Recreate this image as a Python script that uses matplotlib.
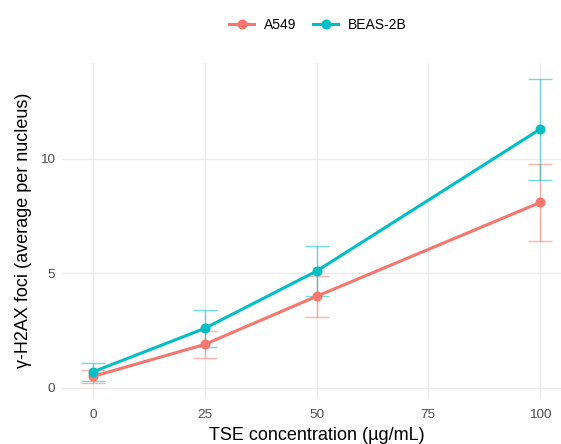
import matplotlib
matplotlib.use("Agg")
import matplotlib.pyplot as plt
from matplotlib.lines import Line2D

plt.rcParams['font.family'] = ['Liberation Sans', 'DejaVu Sans']

conc = [0, 25, 50, 100]
a549_mean = [0.5, 1.9, 4.0, 8.1]
a549_err = [0.3, 0.6, 0.9, 1.7]
beas_mean = [0.7, 2.6, 5.1, 11.3]
beas_err = [0.4, 0.8, 1.1, 2.2]
series = [("A549", a549_mean, a549_err, "#F8766D"),
          ("BEAS-2B", beas_mean, beas_err, "#00BFC4")]

W, H = 561, 444
fig = plt.figure(figsize=(W / 100, H / 100), dpi=100)
ax = fig.add_axes([62 / W, 1 - 398 / H, (571 - 62) / W, (398 - 63) / H])

for name, m, e, c in series:
    ax.errorbar(conc, m, yerr=e, fmt='none', ecolor=c, alpha=0.55,
                elinewidth=1.0, capsize=8.5, capthick=1.0, zorder=2)
for name, m, e, c in series:
    ax.plot(conc, m, color=c, lw=2.2, marker='o', ms=6.2, zorder=3, label=name)

ax.set_xlim(-6.9, 106.9)
ax.set_ylim(-0.44, 14.19)
ax.set_xticks([0, 25, 50, 75, 100])
ax.set_yticks([0, 5, 10])
ax.grid(True, color='#EBEBEB', lw=1.0)
ax.set_axisbelow(True)
for s in ax.spines.values():
    s.set_visible(False)
ax.tick_params(length=0, labelsize=9.7, labelcolor='#4D4D4D')
ax.tick_params(axis='x', pad=8)
ax.tick_params(axis='y', pad=5)
ax.set_xlabel("TSE concentration (µg/mL)", fontsize=13, labelpad=4.5)
ax.set_ylabel("γ-H2AX foci (average per nucleus)", fontsize=13, labelpad=6)

handles = [Line2D([], [], color=c, lw=2.2, marker='o', ms=6.2) for _, _, _, c in series]
fig.legend(handles, [s[0] for s in series], loc='center', bbox_to_anchor=(318 / W, 1 - 25 / H),
           ncol=2, frameon=False, fontsize=10, handlelength=1.8, columnspacing=1.2,
           handletextpad=0.7)

fig.savefig("out.png", dpi=100)
